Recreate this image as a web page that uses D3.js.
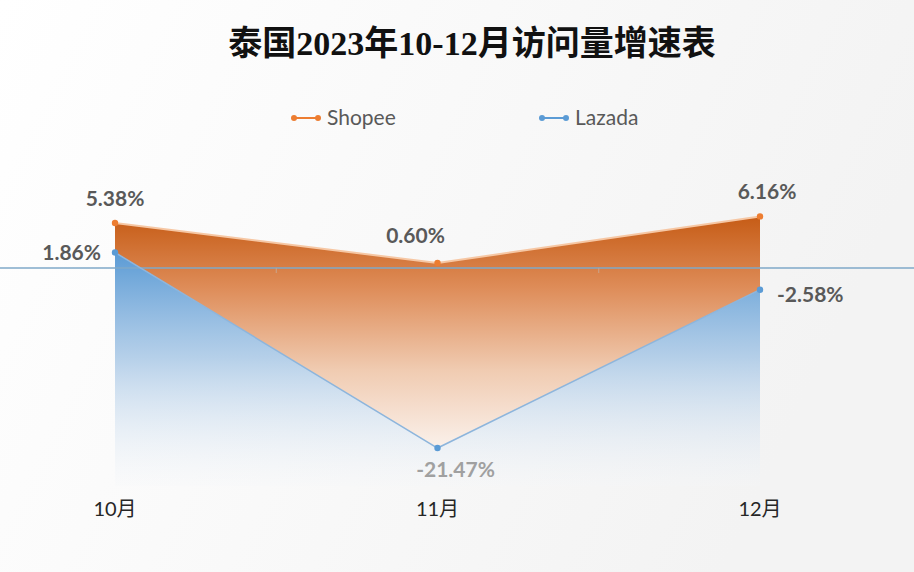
<!DOCTYPE html>
<html><head><meta charset="utf-8">
<script src="https://cdn.jsdelivr.net/npm/d3@7"></script>
<style>html,body{margin:0;padding:0;background:#fff}svg{display:block}</style>
</head><body>
<script>
const months = ["10月", "11月", "12月"];
const shopee = [5.38, 0.60, 6.16];
const lazada = [1.86, -21.47, -2.58];
const seriesNames = ["Shopee", "Lazada"];
const title = "泰国2023年10-12月访问量增速表";

const W = 914, H = 572;
const svg = d3.select("body").append("svg").attr("width", W).attr("height", H);
const defs = svg.append("defs");

const x = d3.scalePoint().domain(months).range([115, 760]);
const y = d3.scaleLinear().domain([-26, 8]).range([486, 201]);
const step = x.step();

// background
const bg = defs.append("linearGradient").attr("id", "bg").attr("x1", 0).attr("x2", 1).attr("y1", 0).attr("y2", 0.3);
bg.append("stop").attr("offset", 0).attr("stop-color", "#ffffff");
bg.append("stop").attr("offset", 1).attr("stop-color", "#f3f3f3");
svg.append("rect").attr("width", W).attr("height", H).attr("fill", "url(#bg)");

// gradients
const og = defs.append("linearGradient").attr("id", "og").attr("gradientUnits", "userSpaceOnUse")
  .attr("x1", 0).attr("x2", 0).attr("y1", y(d3.max(shopee))).attr("y2", y(-22));
og.append("stop").attr("offset", 0).attr("stop-color", "#c65c16");
og.append("stop").attr("offset", 0.3).attr("stop-color", "#de8c58");
og.append("stop").attr("offset", 0.65).attr("stop-color", "#f0cbb1");
og.append("stop").attr("offset", 1).attr("stop-color", "#fbf3ee");

const bgr = defs.append("linearGradient").attr("id", "bgr").attr("gradientUnits", "userSpaceOnUse")
  .attr("x1", 0).attr("x2", 0).attr("y1", y(d3.max(lazada))).attr("y2", y(-26));
bgr.append("stop").attr("offset", 0).attr("stop-color", "#5b9bd5").attr("stop-opacity", 1);
bgr.append("stop").attr("offset", 0.45).attr("stop-color", "#a9c8e6").attr("stop-opacity", 0.85);
bgr.append("stop").attr("offset", 1).attr("stop-color", "#f4f6f9").attr("stop-opacity", 0.2);

const idx = d3.range(months.length);

// orange area between shopee and lazada
const areaO = d3.area().x(i => x(months[i])).y0(i => y(lazada[i])).y1(i => y(shopee[i]));
svg.append("path").datum(idx).attr("d", areaO).attr("fill", "url(#og)");

// blue area below lazada
const areaB = d3.area().x(i => x(months[i])).y0(y(-26)).y1(i => y(lazada[i]));
svg.append("path").datum(idx).attr("d", areaB).attr("fill", "url(#bgr)");

// zero line
svg.append("line").attr("x1", 0).attr("x2", W).attr("y1", y(0)).attr("y2", y(0))
  .attr("stroke", "#7fa9c9").attr("stroke-width", 1.5);
// ticks between categories
months.slice(1).forEach(m => {
  const tx = x(m) - step / 2;
  svg.append("line").attr("x1", tx).attr("x2", tx).attr("y1", y(0)).attr("y2", y(0) + 5)
    .attr("stroke", "#c9a58c").attr("stroke-width", 1);
});

// lines
const line = (arr) => d3.line().x(i => x(months[i])).y(i => y(arr[i]));
svg.append("path").datum(idx).attr("d", line(shopee)).attr("fill", "none")
  .attr("stroke", "#f6c7a4").attr("stroke-width", 2);
svg.append("path").datum(idx).attr("d", line(lazada)).attr("fill", "none")
  .attr("stroke", "#8db5dc").attr("stroke-width", 1.5);

svg.selectAll(".ms").data(idx).enter().append("circle")
  .attr("cx", i => x(months[i])).attr("cy", i => y(shopee[i])).attr("r", 3.2).attr("fill", "#ed7d31");
svg.selectAll(".ml").data(idx).enter().append("circle")
  .attr("cx", i => x(months[i])).attr("cy", i => y(lazada[i])).attr("r", 3.2).attr("fill", "#5b9bd5");

// data labels
const lblFont = "Lato, 'Open Sans', sans-serif";
const fmt = v => v.toFixed(2) + "%";
const sOff = [[0, -17, "middle"], [-22, -20, "middle"], [7, -17, "middle"]];
const lOff = [[-14, 8, "end"], [18, 29, "middle"], [17, 12, "start"]];
idx.forEach(i => {
  svg.append("text").attr("x", x(months[i]) + sOff[i][0]).attr("y", y(shopee[i]) + sOff[i][1])
    .attr("text-anchor", sOff[i][2]).attr("font-family", lblFont).attr("font-weight", 700)
    .attr("font-size", 21).attr("fill", "#595959").text(fmt(shopee[i]));
  svg.append("text").attr("x", x(months[i]) + lOff[i][0]).attr("y", y(lazada[i]) + lOff[i][1])
    .attr("text-anchor", lOff[i][2]).attr("font-family", lblFont).attr("font-weight", 700)
    .attr("font-size", 21).attr("fill", i === 1 ? "#a0a0a0" : "#595959").text(fmt(lazada[i]));
});

// category labels
svg.selectAll(".cat").data(months).enter().append("text")
  .attr("x", d => x(d)).attr("y", 516).attr("text-anchor", "middle")
  .attr("font-family", "Lato, 'Noto Sans CJK SC', sans-serif").attr("font-size", 20)
  .attr("fill", "#262626").text(d => d);

// title
svg.append("text").attr("x", 472).attr("y", 55).attr("text-anchor", "middle")
  .attr("font-family", "'Liberation Serif', 'Noto Sans CJK SC', serif").attr("font-weight", 700)
  .attr("font-size", 34).attr("fill", "#111").text(title);

// legend
const legCols = ["#ed7d31", "#5b9bd5"];
const legX = [292, 540];
seriesNames.forEach((n, k) => {
  const g = svg.append("g").attr("transform", `translate(${legX[k]},118)`);
  g.append("line").attr("x1", 0).attr("x2", 28).attr("y1", 0).attr("y2", 0).attr("stroke", legCols[k]).attr("stroke-width", 2);
  g.append("circle").attr("cx", 2).attr("cy", 0).attr("r", 3).attr("fill", legCols[k]);
  g.append("circle").attr("cx", 26).attr("cy", 0).attr("r", 3).attr("fill", legCols[k]);
  g.append("text").attr("x", 35).attr("y", 7).attr("font-family", lblFont).attr("font-size", 21)
    .attr("fill", "#595959").text(n);
});
</script>
</body></html>
